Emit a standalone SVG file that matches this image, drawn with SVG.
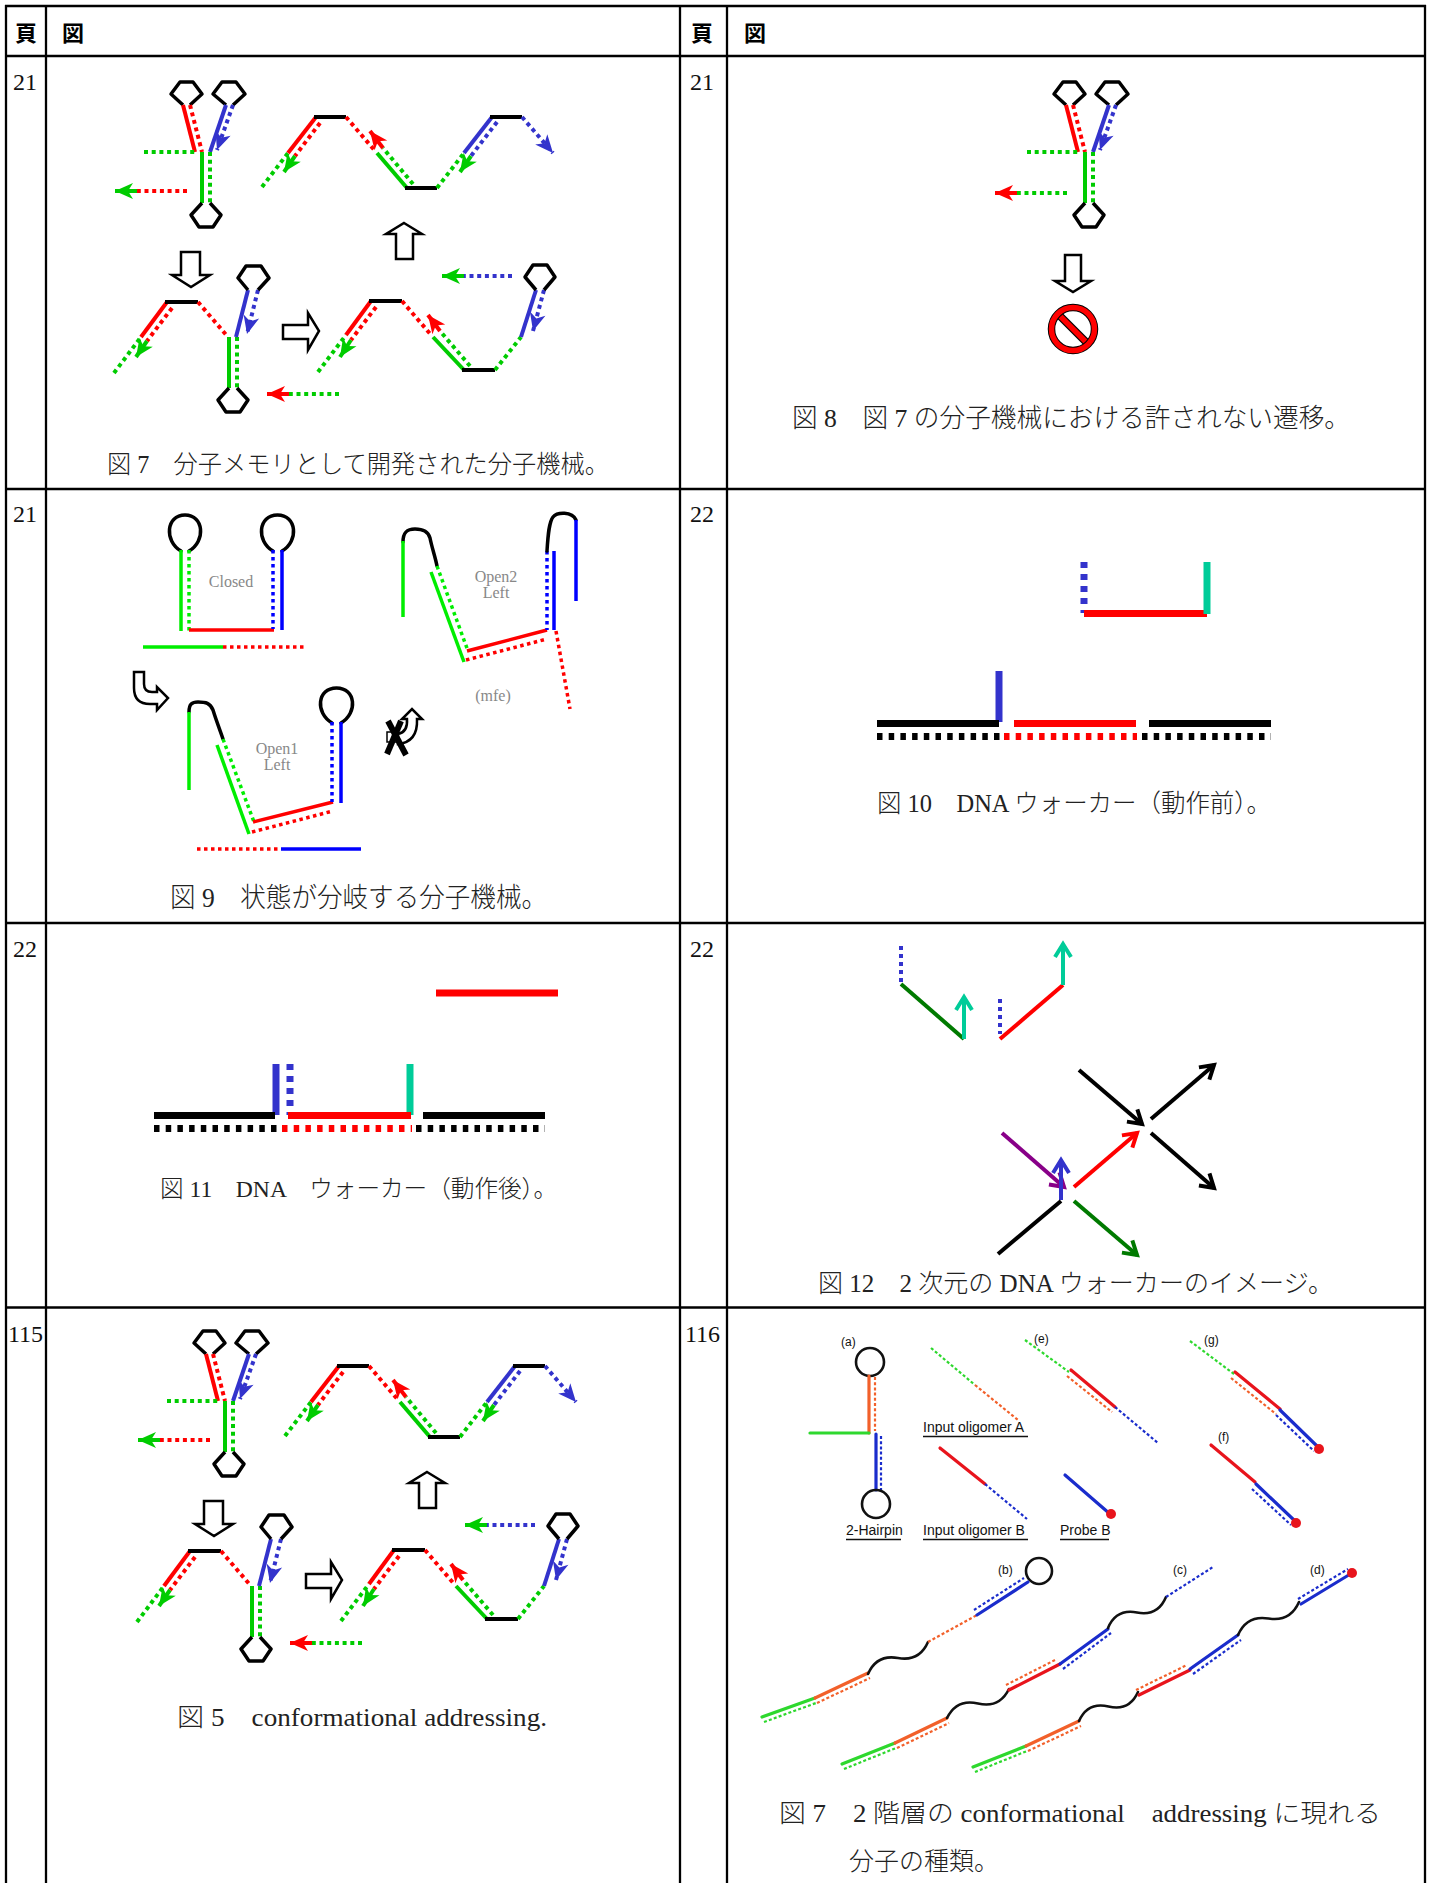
<svg xmlns="http://www.w3.org/2000/svg" xmlns:xlink="http://www.w3.org/1999/xlink" width="1431" height="1883" viewBox="0 0 1431 1883">
<defs>
<style>
.s{fill:none;stroke-width:4}
.dt{stroke-dasharray:4 3.7}
.R{stroke:#ff0000}.G{stroke:#00cc00}.B{stroke:#3333cc}.K{stroke:#000}
.hex{fill:none;stroke:#000;stroke-width:3.5;stroke-linejoin:round}
.hol{fill:#fff;stroke:#000;stroke-width:2.5;stroke-linejoin:miter}
.s9{fill:none;stroke-width:3.5}
.d9{stroke-dasharray:3.5 3.5}
.G9{stroke:#00ee00}.B9{stroke:#0000ff}
.loop{fill:none;stroke:#000;stroke-width:3.5;stroke-linecap:round}
.w{fill:none;stroke-width:7}
.dv{stroke-dasharray:6 6}
.dh{stroke-dasharray:5.5 6.2}
.T{stroke:#00cc99}
.a12{fill:none;stroke-width:4}
.s16{fill:none;stroke-width:3.2;stroke-linecap:round}
.d16{fill:none;stroke-width:2.2;stroke-dasharray:3 2.2}
.wv{fill:none;stroke:#111;stroke-width:2.6;stroke-linecap:round}
.G16{stroke:#2ed82e}.O16{stroke:#f2602a}.R16{stroke:#e8141c}.B16{stroke:#1a2ccc}
.cap{font-family:"Liberation Serif","Noto Sans CJK JP",serif;font-weight:300;fill:#222}
.pg{font-family:"Liberation Serif",serif;font-size:24px;fill:#111}
.hd{font-family:"Noto Sans CJK JP",sans-serif;font-weight:bold;font-size:22px;fill:#000}
.lb9{font-family:"Liberation Serif",serif;font-size:16px;fill:#888;text-anchor:middle}
.lb16{font-family:"Liberation Sans",Arial,sans-serif;font-size:14px;fill:#111}
.lbs{font-family:"Liberation Sans",Arial,sans-serif;font-size:12px;fill:#111}
</style>
<marker id="mG" viewBox="-20 -10 22 20" refX="0" refY="0" markerWidth="22" markerHeight="20" markerUnits="userSpaceOnUse" orient="auto"><path d="M0,0 L-18,-8 L-13,0 L-18,8 Z" fill="#00cc00"/></marker>
<marker id="mR" viewBox="-20 -10 22 20" refX="0" refY="0" markerWidth="22" markerHeight="20" markerUnits="userSpaceOnUse" orient="auto"><path d="M0,0 L-18,-8 L-13,0 L-18,8 Z" fill="#ff0000"/></marker>
<marker id="mB" viewBox="-20 -10 22 20" refX="0" refY="0" markerWidth="22" markerHeight="20" markerUnits="userSpaceOnUse" orient="auto"><path d="M0,0 L-18,-8 L-13,0 L-18,8 Z" fill="#3333cc"/></marker>
<marker id="vK" viewBox="-16 -10 20 20" refX="0" refY="0" markerWidth="20" markerHeight="20" markerUnits="userSpaceOnUse" orient="auto" overflow="visible"><path d="M-13,-8 L0,0 L-13,8" fill="none" stroke="#000" stroke-width="4"/></marker>
<marker id="vR" viewBox="-16 -10 20 20" refX="0" refY="0" markerWidth="20" markerHeight="20" markerUnits="userSpaceOnUse" orient="auto" overflow="visible"><path d="M-13,-8 L0,0 L-13,8" fill="none" stroke="#ff0000" stroke-width="4"/></marker>
<marker id="vT" viewBox="-16 -10 20 20" refX="0" refY="0" markerWidth="20" markerHeight="20" markerUnits="userSpaceOnUse" orient="auto" overflow="visible"><path d="M-13,-8 L0,0 L-13,8" fill="none" stroke="#00cc99" stroke-width="4"/></marker>
<marker id="vP" viewBox="-16 -10 20 20" refX="0" refY="0" markerWidth="20" markerHeight="20" markerUnits="userSpaceOnUse" orient="auto" overflow="visible"><path d="M-13,-8 L0,0 L-13,8" fill="none" stroke="#880088" stroke-width="4"/></marker>
<marker id="vB" viewBox="-16 -10 20 20" refX="0" refY="0" markerWidth="20" markerHeight="20" markerUnits="userSpaceOnUse" orient="auto" overflow="visible"><path d="M-13,-8 L0,0 L-13,8" fill="none" stroke="#3333cc" stroke-width="4"/></marker>
<marker id="vG" viewBox="-16 -10 20 20" refX="0" refY="0" markerWidth="20" markerHeight="20" markerUnits="userSpaceOnUse" orient="auto" overflow="visible"><path d="M-13,-8 L0,0 L-13,8" fill="none" stroke="#007a00" stroke-width="4"/></marker>

<g id="ystruct">
  <path class="hex" d="M183,105 L171,94 L180,82 L193,82 L202,94 L190,105"/>
  <line class="s R" x1="183" y1="105" x2="195" y2="152"/>
  <line class="s R dt" x1="190" y1="105" x2="202" y2="152"/>
  <path class="hex" d="M226,105 L213,94 L222,82 L236,82 L245,94 L233,105"/>
  <line class="s B" x1="226" y1="105" x2="210" y2="152"/>
  <line class="s B dt" x1="233" y1="105" x2="217" y2="150" marker-end="url(#mB)"/>
  <line class="s G dt" x1="144" y1="152" x2="196" y2="152"/>
  <line class="s G" x1="202" y1="152" x2="202" y2="203"/>
  <line class="s G dt" x1="210" y1="152" x2="210" y2="203"/>
  <path class="hex" d="M202,203 L191,215 L199,227 L213,227 L221,215 L210,203"/>
</g>

<g id="fig7art">
  <use xlink:href="#ystruct" href="#ystruct"/>
  <line class="s R dt" x1="187" y1="191" x2="137" y2="191"/>
  <line class="s G" x1="137" y1="191" x2="115" y2="191" marker-end="url(#mG)"/>
  <line class="s G dt" x1="262" y1="187" x2="288" y2="153"/>
  <line class="s R" x1="288" y1="153" x2="316" y2="117"/>
  <line class="s R dt" x1="320" y1="123" x2="295" y2="156"/>
  <line class="s G" x1="295" y1="156" x2="284" y2="172" marker-end="url(#mG)"/>
  <line class="s K" x1="314" y1="117" x2="346" y2="117"/>
  <line class="s R dt" x1="346" y1="117" x2="376" y2="152"/>
  <line class="s G" x1="377" y1="153" x2="407" y2="188"/>
  <line class="s G dt" x1="413" y1="184" x2="383" y2="148"/>
  <line class="s R" x1="383" y1="148" x2="370" y2="131" marker-end="url(#mR)"/>
  <line class="s K" x1="405" y1="188" x2="437" y2="188"/>
  <line class="s G dt" x1="437" y1="188" x2="464" y2="153"/>
  <line class="s B" x1="464" y1="153" x2="492" y2="117"/>
  <line class="s B dt" x1="497" y1="122" x2="471" y2="156"/>
  <line class="s G" x1="471" y1="156" x2="460" y2="172" marker-end="url(#mG)"/>
  <line class="s K" x1="490" y1="117" x2="522" y2="117"/>
  <line class="s B dt" x1="522" y1="117" x2="553" y2="153" marker-end="url(#mB)"/>
  <path class="hol" d="M404,223 L422,234 L413,234 L413,259 L396,259 L396,234 L386,234 Z"/>
  <path class="hol" d="M181,252 L200,252 L200,275 L210,275 L191,287 L172,275 L181,275 Z"/>
  <path class="hol" d="M283,325 L308,325 L308,313 L319,331 L308,350 L308,339 L283,339 Z"/>
  <line class="s G dt" x1="114" y1="373" x2="141" y2="337"/>
  <line class="s R" x1="141" y1="337" x2="167" y2="302"/>
  <line class="s R dt" x1="172" y1="308" x2="147" y2="341"/>
  <line class="s G" x1="147" y1="341" x2="136" y2="357" marker-end="url(#mG)"/>
  <line class="s K" x1="165" y1="302" x2="198" y2="302"/>
  <line class="s R dt" x1="198" y1="302" x2="228" y2="337"/>
  <line class="s G" x1="229" y1="337" x2="229" y2="388"/>
  <line class="s G dt" x1="237" y1="337" x2="237" y2="388"/>
  <path class="hex" d="M229,388 L218,400 L226,412 L240,412 L248,400 L237,388"/>
  <line class="s B" x1="236" y1="337" x2="248" y2="290"/>
  <line class="s B dt" x1="258" y1="290" x2="247" y2="334" marker-end="url(#mB)"/>
  <path class="hex" d="M248,290 L238,278 L246,266 L261,266 L269,278 L258,290"/>
  <line class="s G dt" x1="339" y1="394" x2="289" y2="394"/>
  <line class="s R" x1="289" y1="394" x2="267" y2="394" marker-end="url(#mR)"/>
  <line class="s G dt" x1="318" y1="372" x2="346" y2="335"/>
  <line class="s R" x1="346" y1="335" x2="371" y2="301"/>
  <line class="s R dt" x1="376" y1="307" x2="351" y2="340"/>
  <line class="s G" x1="351" y1="340" x2="340" y2="357" marker-end="url(#mG)"/>
  <line class="s K" x1="369" y1="301" x2="402" y2="301"/>
  <line class="s R dt" x1="402" y1="301" x2="432" y2="336"/>
  <line class="s G" x1="433" y1="337" x2="464" y2="370"/>
  <line class="s G dt" x1="470" y1="366" x2="440" y2="331"/>
  <line class="s R" x1="440" y1="331" x2="428" y2="315" marker-end="url(#mR)"/>
  <line class="s K" x1="462" y1="370" x2="495" y2="370"/>
  <line class="s G dt" x1="495" y1="370" x2="521" y2="337"/>
  <line class="s B" x1="521" y1="337" x2="536" y2="290"/>
  <line class="s B dt" x1="544" y1="290" x2="533" y2="331" marker-end="url(#mB)"/>
  <path class="hex" d="M536,290 L525,277 L533,265 L547,265 L555,277 L544,290"/>
  <line class="s B dt" x1="512" y1="276" x2="464" y2="276"/>
  <line class="s G" x1="464" y1="276" x2="442" y2="276" marker-end="url(#mG)"/>
</g>
</defs>

<rect x="0" y="0" width="1431" height="1883" fill="#fff"/>

<g id="table" stroke="#000" stroke-width="2.3" fill="none">
  <line x1="5" y1="6" x2="1426" y2="6"/>
  <line x1="6" y1="5" x2="6" y2="1883"/>
  <line x1="46" y1="6" x2="46" y2="1883"/>
  <line x1="680" y1="6" x2="680" y2="1883"/>
  <line x1="727" y1="6" x2="727" y2="1883"/>
  <line x1="1425" y1="5" x2="1425" y2="1883"/>
  <line x1="5" y1="56" x2="1426" y2="56"/>
  <line x1="5" y1="489" x2="1426" y2="489"/>
  <line x1="5" y1="923" x2="1426" y2="923"/>
  <line x1="5" y1="1307.5" x2="1426" y2="1307.5"/>
</g>

<g id="header">
  <text class="hd" x="15" y="41">頁</text>
  <text class="hd" x="62" y="41">図</text>
  <text class="hd" x="691" y="41">頁</text>
  <text class="hd" x="744" y="41">図</text>
</g>

<g id="pages">
  <text class="pg" x="13" y="90">21</text>
  <text class="pg" x="690" y="90">21</text>
  <text class="pg" x="13" y="522">21</text>
  <text class="pg" x="690" y="522">22</text>
  <text class="pg" x="13" y="957">22</text>
  <text class="pg" x="690" y="957">22</text>
  <text class="pg" x="8" y="1342">115</text>
  <text class="pg" x="685" y="1342">116</text>
</g>

<g id="fig7">
  <use xlink:href="#fig7art" href="#fig7art"/>
  <text class="cap" x="107" y="473" font-size="25" textLength="502" lengthAdjust="spacingAndGlyphs">図 7　分子メモリとして開発された分子機械。</text>
</g>

<g id="fig8">
  <use xlink:href="#ystruct" href="#ystruct" transform="translate(883,0)"/>
  <line class="s G dt" x1="1067" y1="193" x2="1017" y2="193"/>
  <line class="s R" x1="1017" y1="193" x2="995" y2="193" marker-end="url(#mR)"/>
  <path class="hol" d="M1065,255 L1081,255 L1081,281 L1091,281 L1073,292 L1055,281 L1065,281 Z"/>
  <g id="fig8-stop">
    <line x1="1058" y1="314" x2="1088" y2="344" stroke="#000" stroke-width="8"/>
    <line x1="1058" y1="314" x2="1088" y2="344" stroke="#ff0000" stroke-width="5.5"/>
    <circle cx="1073" cy="329" r="21.5" fill="none" stroke="#000" stroke-width="7.5"/>
    <circle cx="1073" cy="329" r="21.5" fill="none" stroke="#ff0000" stroke-width="5.5"/>
  </g>
  <text class="cap" x="792" y="427" font-size="26" textLength="558" lengthAdjust="spacingAndGlyphs">図 8　図 7 の分子機械における許されない遷移。</text>
</g>

<g id="fig9">
  <path class="loop" d="M181,551 C164,541 166,515 185,515 C204,515 206,541 189,551"/>
  <line class="s9 G9" x1="181" y1="550" x2="181" y2="631"/>
  <line class="s9 G9 d9" x1="189" y1="550" x2="189" y2="631"/>
  <line class="s9 R" x1="189" y1="630" x2="274" y2="630"/>
  <path class="loop" d="M273,551 C256,541 258,515 277.5,515 C297,515 299,541 282,551"/>
  <line class="s9 B9 d9" x1="273" y1="550" x2="273" y2="629"/>
  <line class="s9 B9" x1="282" y1="550" x2="282" y2="630"/>
  <text class="lb9" x="231" y="587">Closed</text>
  <line class="s9 G9" x1="143" y1="647" x2="223" y2="647"/>
  <line class="s9 R d9" x1="223" y1="647" x2="304" y2="647"/>
  <path class="loop" d="M403,542 C403,532 407,529 415,529 C423,529 428,531 430,538 C432,548 435,556 437,566"/>
  <line class="s9 G9" x1="403" y1="541" x2="403" y2="617"/>
  <line class="s9 G9" x1="431" y1="572" x2="464" y2="662"/>
  <line class="s9 G9 d9" x1="437" y1="566" x2="468" y2="651"/>
  <line class="s9 R" x1="467" y1="651" x2="547" y2="630"/>
  <line class="s9 R d9" x1="466" y1="660" x2="547" y2="639"/>
  <line class="s9 B9 d9" x1="547" y1="551" x2="547" y2="630"/>
  <line class="s9 B9" x1="554" y1="551" x2="554" y2="630"/>
  <path class="loop" d="M547,551 C548,535 549,522 553,517 C557,512 572,511 576,520"/>
  <line class="s9 B9" x1="576" y1="520" x2="576" y2="601"/>
  <line class="s9 R d9" x1="556" y1="631" x2="570" y2="709"/>
  <text class="lb9" x="496" y="582">Open2</text>
  <text class="lb9" x="496" y="598">Left</text>
  <text class="lb9" x="493" y="701">(mfe)</text>
  <path class="hol" stroke-width="2" d="M134,672 L144,672 L144,684 Q144,692 152,692 L157,692 L157,687 L168,698 L157,710 L157,704 L150,704 Q134,704 134,688 Z"/>
  <path class="loop" d="M189,712 C189,704 192,702 198,702 C206,702 210,703 213,710 C216,720 220,730 223,739"/>
  <line class="s9 G9" x1="189" y1="712" x2="189" y2="790"/>
  <line class="s9 G9" x1="217" y1="745" x2="249" y2="834"/>
  <line class="s9 G9 d9" x1="223" y1="739" x2="254" y2="822"/>
  <line class="s9 R" x1="253" y1="822" x2="333" y2="802"/>
  <line class="s9 R d9" x1="252" y1="832" x2="333" y2="811"/>
  <path class="loop" d="M332,723 C315,713 317,688 336.5,688 C356,688 358,713 341,723"/>
  <line class="s9 B9 d9" x1="332" y1="722" x2="332" y2="802"/>
  <line class="s9 B9" x1="341" y1="722" x2="341" y2="803"/>
  <text class="lb9" x="277" y="754">Open1</text>
  <text class="lb9" x="277" y="770">Left</text>
  <line class="s9 R d9" x1="197" y1="849" x2="280" y2="849"/>
  <line class="s9 B9" x1="281" y1="849" x2="361" y2="849"/>
  <rect x="387" y="732" width="10" height="10" fill="#fff" stroke="#000" stroke-width="1.5"/>
  <path class="hol" stroke-width="1.8" d="M398,744 Q418,742 417,719 L422,719 L412,709 L402,719 L407,719 Q408,732 398,734 Z"/>
  <line x1="388" y1="721" x2="406" y2="755" stroke="#000" stroke-width="6"/>
  <line x1="401" y1="721" x2="387" y2="754" stroke="#000" stroke-width="6"/>
  <text class="cap" x="170" y="907" font-size="27" textLength="377" lengthAdjust="spacingAndGlyphs">図 9　状態が分岐する分子機械。</text>
</g>

<g id="fig10">
  <line class="w B dv" x1="1084" y1="562" x2="1084" y2="613"/>
  <line class="w R" x1="1084" y1="613.5" x2="1207" y2="613.5"/>
  <line class="w T" x1="1207" y1="562" x2="1207" y2="614"/>
  <line class="w B" x1="999" y1="671" x2="999" y2="722"/>
  <line class="w K" x1="877" y1="723.5" x2="999" y2="723.5"/>
  <line class="w R" x1="1014" y1="723.5" x2="1136" y2="723.5"/>
  <line class="w K" x1="1149" y1="723.5" x2="1271" y2="723.5"/>
  <line class="w K dh" x1="877" y1="736.5" x2="1004" y2="736.5"/>
  <line class="w R dh" x1="1004" y1="736.5" x2="1137" y2="736.5"/>
  <line class="w K dh" x1="1142" y1="736.5" x2="1271" y2="736.5"/>
  <text class="cap" x="877" y="812" font-size="25" textLength="394" lengthAdjust="spacingAndGlyphs">図 10　DNA ウォーカー（動作前）。</text>
</g>

<g id="fig11">
  <line class="w R" x1="436" y1="993" x2="558" y2="993"/>
  <line class="w B" x1="276" y1="1064" x2="276" y2="1115"/>
  <line class="w B dv" x1="290" y1="1064" x2="290" y2="1115"/>
  <line class="w T" x1="410" y1="1064" x2="410" y2="1115"/>
  <line class="w K" x1="154" y1="1115.5" x2="275" y2="1115.5"/>
  <line class="w R" x1="288" y1="1115.5" x2="411" y2="1115.5"/>
  <line class="w K" x1="423" y1="1115.5" x2="545" y2="1115.5"/>
  <line class="w K dh" x1="154" y1="1128.5" x2="282" y2="1128.5"/>
  <line class="w R dh" x1="282" y1="1128.5" x2="412" y2="1128.5"/>
  <line class="w K dh" x1="416" y1="1128.5" x2="545" y2="1128.5"/>
  <text class="cap" x="160" y="1197" font-size="24" textLength="397" lengthAdjust="spacingAndGlyphs">図 11　DNA　ウォーカー（動作後）。</text>
</g>

<g id="fig12">
  <line class="a12 B" x1="901" y1="946" x2="901" y2="982" stroke-dasharray="4 4"/>
  <line class="a12" stroke="#007a00" x1="901" y1="984" x2="964" y2="1039"/>
  <line class="a12 T" x1="964" y1="1039" x2="964" y2="997" marker-end="url(#vT)"/>
  <line class="a12 B" x1="1000" y1="999" x2="1000" y2="1034" stroke-dasharray="4 4"/>
  <line class="a12 R" x1="1000" y1="1039" x2="1063" y2="985"/>
  <line class="a12 T" x1="1063" y1="985" x2="1063" y2="944" marker-end="url(#vT)"/>
  <line class="a12 K" x1="1079" y1="1070" x2="1142" y2="1124" marker-end="url(#vK)"/>
  <line class="a12 K" x1="1151" y1="1119" x2="1214" y2="1065" marker-end="url(#vK)"/>
  <line class="a12 K" x1="1151" y1="1133" x2="1214" y2="1188" marker-end="url(#vK)"/>
  <line class="a12 R" x1="1074" y1="1187" x2="1137" y2="1133" marker-end="url(#vR)"/>
  <line class="a12" stroke="#880088" x1="1002" y1="1133" x2="1064" y2="1187" marker-end="url(#vP)"/>
  <line class="a12 B" x1="1061" y1="1200" x2="1061" y2="1160" marker-end="url(#vB)"/>
  <line class="a12 K" x1="998" y1="1254" x2="1061" y2="1201"/>
  <line class="a12" stroke="#007a00" x1="1074" y1="1201" x2="1137" y2="1255" marker-end="url(#vG)"/>
  <text class="cap" x="818" y="1292" font-size="25" textLength="515" lengthAdjust="spacingAndGlyphs">図 12　2 次元の DNA ウォーカーのイメージ。</text>
</g>

<g id="fig5">
  <use xlink:href="#fig7art" href="#fig7art" transform="translate(23,1249)"/>
  <text class="cap" x="177" y="1726" font-size="25" textLength="370" lengthAdjust="spacingAndGlyphs">図 5　conformational addressing.</text>
</g>

<g id="fig7b">
  <text class="lbs" x="841" y="1346">(a)</text>
  <circle cx="870" cy="1362" r="14" fill="none" stroke="#111" stroke-width="2.6"/>
  <line class="s16 O16" x1="869" y1="1376" x2="869" y2="1433"/>
  <line class="d16 O16" x1="875" y1="1377" x2="875" y2="1431"/>
  <line class="s16 G16" x1="810" y1="1433" x2="869" y2="1433"/>
  <line class="s16 B16" x1="876" y1="1434" x2="876" y2="1490"/>
  <line class="d16 B16" x1="881" y1="1436" x2="881" y2="1490"/>
  <circle cx="876" cy="1504" r="14" fill="none" stroke="#111" stroke-width="2.6"/>
  <text class="lb16" x="846" y="1535">2-Hairpin</text>
  <line x1="846" y1="1539.5" x2="901" y2="1539.5" stroke="#111" stroke-width="1.3"/>
  <line class="d16 G16" x1="931" y1="1348" x2="975" y2="1385"/>
  <line class="d16 O16" x1="975" y1="1385" x2="1018" y2="1420"/>
  <text class="lb16" x="923" y="1432">Input oligomer A</text>
  <line x1="923" y1="1436.5" x2="1028" y2="1436.5" stroke="#111" stroke-width="1.3"/>
  <line class="s16 R16" x1="940" y1="1448" x2="985" y2="1484"/>
  <line class="d16 B16" x1="985" y1="1484" x2="1027" y2="1519"/>
  <text class="lb16" x="923" y="1535">Input oligomer B</text>
  <line x1="923" y1="1539.5" x2="1028" y2="1539.5" stroke="#111" stroke-width="1.3"/>
  <line class="s16 B16" x1="1065" y1="1475" x2="1110" y2="1514"/>
  <circle cx="1111" cy="1514" r="5" fill="#e8141c"/>
  <text class="lb16" x="1060" y="1535">Probe B</text>
  <line x1="1060" y1="1539.5" x2="1109" y2="1539.5" stroke="#111" stroke-width="1.3"/>
  <text class="lbs" x="1034" y="1343">(e)</text>
  <line class="d16 G16" x1="1025" y1="1340" x2="1069" y2="1372"/>
  <line class="s16 R16" x1="1071" y1="1370" x2="1115" y2="1407"/>
  <line class="d16 O16" x1="1067" y1="1376" x2="1112" y2="1412"/>
  <line class="d16 B16" x1="1115" y1="1407" x2="1158" y2="1443"/>
  <text class="lbs" x="1204" y="1344">(g)</text>
  <line class="d16 G16" x1="1190" y1="1341" x2="1234" y2="1374"/>
  <line class="s16 R16" x1="1235" y1="1372" x2="1280" y2="1409"/>
  <line class="d16 O16" x1="1231" y1="1378" x2="1276" y2="1414"/>
  <line class="s16 B16" x1="1280" y1="1410" x2="1318" y2="1447"/>
  <line class="d16 B16" x1="1276" y1="1415" x2="1314" y2="1451"/>
  <circle cx="1319" cy="1449" r="5" fill="#e8141c"/>
  <text class="lbs" x="1218" y="1441">(f)</text>
  <line class="s16 R16" x1="1211" y1="1445" x2="1255" y2="1482"/>
  <line class="s16 B16" x1="1256" y1="1484" x2="1295" y2="1521"/>
  <line class="d16 B16" x1="1252" y1="1489" x2="1291" y2="1525"/>
  <circle cx="1296" cy="1523" r="5" fill="#e8141c"/>
  <text class="lbs" x="998" y="1574">(b)</text>
  <circle cx="1039" cy="1571" r="13" fill="none" stroke="#111" stroke-width="2.6"/>
  <line class="s16 G16" x1="762" y1="1717" x2="815" y2="1698"/>
  <line class="d16 G16" x1="764" y1="1722" x2="816" y2="1703"/>
  <line class="s16 O16" x1="815" y1="1698" x2="868" y2="1673"/>
  <line class="d16 O16" x1="817" y1="1703" x2="870" y2="1678"/>
  <path class="wv" d="M868,1674 c5.8,-13.2 15.8,-18.6 30,-16 s24.2,-2.8 30,-16"/>
  <line class="d16 O16" x1="928" y1="1642" x2="977" y2="1615"/>
  <line class="s16 B16" x1="977" y1="1615" x2="1028" y2="1582"/>
  <line class="d16 B16" x1="974" y1="1610" x2="1024" y2="1578"/>
  <text class="lbs" x="1173" y="1574">(c)</text>
  <line class="s16 G16" x1="842" y1="1764" x2="895" y2="1743"/>
  <line class="d16 G16" x1="844" y1="1769" x2="896" y2="1748"/>
  <line class="s16 O16" x1="895" y1="1743" x2="947" y2="1718"/>
  <line class="d16 O16" x1="897" y1="1748" x2="949" y2="1723"/>
  <path class="wv" d="M947,1718 c6.5,-13 16.9,-17.9 31,-14.5 s24.5,-1.5 31,-14.5"/>
  <line class="s16 R16" x1="1009" y1="1690" x2="1060" y2="1664"/>
  <line class="d16 O16" x1="1006" y1="1685" x2="1057" y2="1659"/>
  <line class="s16 B16" x1="1060" y1="1664" x2="1108" y2="1629"/>
  <line class="d16 B16" x1="1063" y1="1669" x2="1111" y2="1633"/>
  <path class="wv" d="M1108,1628 c5.5,-13.1 15.1,-18.2 29,-15.5 s23.5,-2.4 29,-15.5"/>
  <line class="d16 B16" x1="1166" y1="1597" x2="1213" y2="1567"/>
  <text class="lbs" x="1310" y="1574">(d)</text>
  <line class="s16 G16" x1="973" y1="1767" x2="1026" y2="1746"/>
  <line class="d16 G16" x1="975" y1="1772" x2="1027" y2="1751"/>
  <line class="s16 O16" x1="1026" y1="1746" x2="1079" y2="1721"/>
  <line class="d16 O16" x1="1028" y1="1751" x2="1081" y2="1726"/>
  <path class="wv" d="M1079,1721 c5.8,-12.9 15.7,-17.8 29.5,-14.5 s23.7,-1.6 29.5,-14.5"/>
  <line class="s16 R16" x1="1139" y1="1695" x2="1190" y2="1670"/>
  <line class="d16 O16" x1="1136" y1="1690" x2="1187" y2="1665"/>
  <line class="s16 B16" x1="1190" y1="1669" x2="1238" y2="1635"/>
  <line class="d16 B16" x1="1193" y1="1674" x2="1241" y2="1640"/>
  <path class="wv" d="M1238,1635 c5.9,-13.4 16,-18.9 30.5,-16.5 s24.6,-3.1 30.5,-16.5"/>
  <line class="s16 B16" x1="1301" y1="1604" x2="1352" y2="1573"/>
  <line class="d16 B16" x1="1298" y1="1599" x2="1348" y2="1569"/>
  <circle cx="1352" cy="1573" r="5" fill="#e8141c"/>
  <text class="cap" x="779" y="1822" font-size="25" textLength="602" lengthAdjust="spacingAndGlyphs">図 7　2 階層の conformational　addressing に現れる</text>
  <text class="cap" x="849" y="1870" font-size="25" textLength="150" lengthAdjust="spacingAndGlyphs">分子の種類。</text>
</g>
</svg>
